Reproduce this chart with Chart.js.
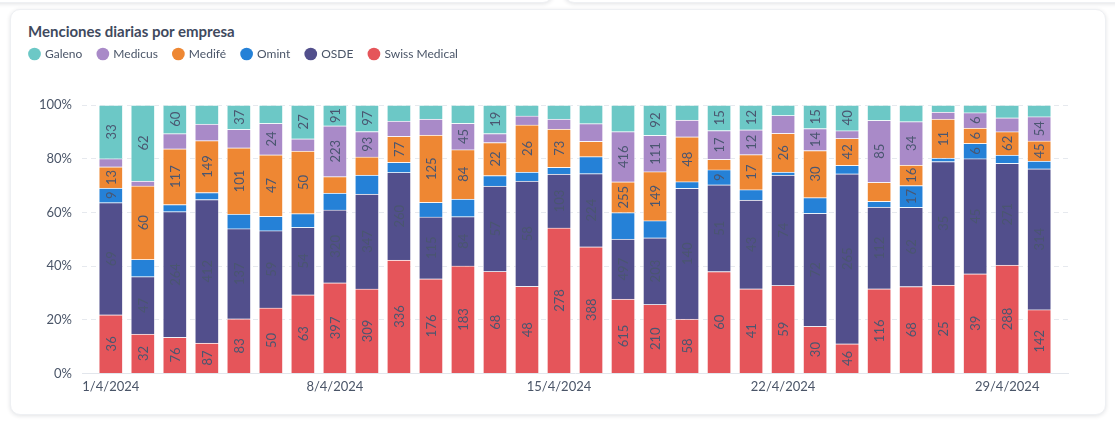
<!DOCTYPE html>
<html lang="es">
<head>
<meta charset="utf-8">
<title>Menciones diarias por empresa</title>
<script src="https://cdn.jsdelivr.net/npm/chart.js@4.4.1/dist/chart.umd.min.js"></script>
<style>
  html, body { margin: 0; padding: 0; background: #fff; font-family: Lato, sans-serif; }
  body { width: 1115px; height: 424px; position: relative; overflow: hidden; }
  .card { position: absolute; background: #fff; border-radius: 10px; border: 1px solid #eef0f3; box-shadow: 0 1px 4px rgba(15, 23, 42, 0.12); }
  .card.arriba-izq { left: -12px; top: -30px; width: 563px; height: 31px; }
  .card.arriba-der { left: 564px; top: -30px; width: 570px; height: 31px; }
  .card.principal { left: 10px; top: 9px; width: 1094px; height: 404px; }
  h3 { position: absolute; left: 28px; top: 22px; margin: 0; font: 700 15px/18px Lato, sans-serif; color: #3f4a5e; }
  .grafico { position: absolute; left: 14px; top: 32px; width: 1060px; height: 372px; }
</style>
</head>
<body>
<div class="card arriba-izq"></div>
<div class="card arriba-der"></div>
<div class="card principal"></div>
<h3>Menciones diarias por empresa</h3>
<div class="grafico"><canvas id="menciones"></canvas></div>

<script>
// días del mes (eje x)
const dias = [
    '1/4/2024', '2/4/2024', '3/4/2024', '4/4/2024', '5/4/2024', '6/4/2024', '7/4/2024',
    '8/4/2024', '9/4/2024', '10/4/2024', '11/4/2024', '12/4/2024', '13/4/2024', '14/4/2024',
    '15/4/2024', '16/4/2024', '17/4/2024', '18/4/2024', '19/4/2024', '20/4/2024', '21/4/2024',
    '22/4/2024', '23/4/2024', '24/4/2024', '25/4/2024', '26/4/2024', '27/4/2024', '28/4/2024',
    '29/4/2024', '30/4/2024',
];
// días con etiqueta en el eje
const diasConEtiqueta = [1, 8, 15, 22, 29];

// menciones por empresa y día
const galeno       = [33, 62, 60, 55, 37, 14, 27, 91, 97, 48, 26, 31, 19, 6, 27, 57, 220, 92, 16, 15, 12, 7, 15, 40, 21, 13, 2, 3, 34, 26];
const medicus      = [5, 4, 32, 47, 28, 24, 10, 223, 93, 45, 30, 45, 6, 5, 19, 54, 416, 111, 18, 17, 12, 12, 14, 12, 85, 34, 2, 6, 37, 54];
const medife       = [13, 60, 117, 149, 101, 47, 50, 72, 66, 77, 125, 84, 22, 26, 73, 47, 255, 149, 48, 6, 17, 26, 30, 42, 26, 16, 11, 6, 62, 45];
const omint        = [9, 14, 15, 20, 22, 11, 11, 74, 70, 30, 27, 30, 7, 5, 13, 52, 220, 52, 7, 9, 5, 2, 10, 13, 8, 17, 1, 6, 22, 17];
const osde         = [69, 47, 264, 412, 137, 59, 54, 320, 347, 260, 115, 84, 57, 58, 103, 224, 497, 203, 140, 51, 43, 74, 72, 265, 112, 62, 35, 45, 271, 314];
const swissMedical = [36, 32, 76, 87, 83, 50, 63, 397, 309, 336, 176, 183, 68, 48, 278, 388, 615, 210, 58, 60, 41, 59, 30, 46, 116, 68, 25, 39, 288, 142];

// orden de apilado: de abajo hacia arriba
const empresas = ['Swiss Medical', 'OSDE', 'Omint', 'Medifé', 'Medicus', 'Galeno'];
const series = [swissMedical, osde, omint, medife, medicus, galeno];
const colores = ['#e5555a', '#524f8c', '#2581d7', '#ee8733', '#a98ac8', '#6cc8c6'];

const totales = dias.map((_, i) => series.reduce((s, arr) => s + arr[i], 0));

Chart.defaults.font.family = 'Lato, sans-serif';
Chart.defaults.color = '#4a5568';

// etiquetas con el conteo, giradas, sólo si entran en el segmento
const etiquetasBarras = {
    id: 'etiquetasBarras',
    afterDatasetsDraw(chart) {
        const ctx = chart.ctx;
        ctx.save();
        ctx.font = '13px Lato, sans-serif';
        ctx.fillStyle = '#4a5670';
        ctx.textAlign = 'center';
        ctx.textBaseline = 'middle';
        chart.data.datasets.forEach((ds, di) => {
            const meta = chart.getDatasetMeta(di);
            if (meta.hidden) return;
            meta.data.forEach((bar, i) => {
                const texto = String(ds.conteos[i]);
                const alto = Math.abs(bar.base - bar.y);
                if (alto < ctx.measureText(texto).width + 4.7) return;
                ctx.save();
                ctx.translate(bar.x, (bar.y + bar.base) / 2);
                ctx.rotate(-Math.PI / 2);
                ctx.fillText(texto, 0, 1);
                ctx.restore();
            });
        });
        ctx.restore();
    }
};

// espacio extra debajo de la leyenda
const margenLeyenda = {
    id: 'margenLeyenda',
    beforeInit(chart) {
        const fitOriginal = chart.legend.fit;
        chart.legend.fit = function () {
            fitOriginal.call(this);
            this.height += 35;
        };
    }
};

new Chart(document.getElementById('menciones'), {
    type: 'bar',
    data: {
        datasets: empresas.map((nombre, k) => ({
            label: nombre,
            conteos: series[k],
            data: series[k].map((v, i) => ({ x: i + 1, y: v / totales[i] * 100 })),
            backgroundColor: colores[k],
            borderColor: 'rgba(255,255,255,0.4)',
            borderWidth: 1,
            barThickness: 24,
        })),
    },
    options: {
        responsive: true,
        maintainAspectRatio: false,
        animation: false,
        layout: { padding: { left: 0, right: 6, top: 0, bottom: 3 } },
        plugins: {
            legend: {
                position: 'top',
                align: 'start',
                reverse: true,
                labels: {
                    usePointStyle: true,
                    pointStyle: 'circle',
                    boxWidth: 9,
                    boxHeight: 9,
                    padding: 16,
                    color: '#4a5568',
                    font: { size: 12 },
                    generateLabels: (chart) => Chart.defaults.plugins.legend.labels
                        .generateLabels(chart).map(it => ({ ...it, lineWidth: 0 })),
                },
            },
            tooltip: { enabled: false },
        },
        scales: {
            x: {
                type: 'linear',
                stacked: true,
                offset: false,
                min: 0.1,
                max: 30.9,
                grid: { display: false, drawTicks: false, offset: false },
                border: { display: true, color: '#e2e6ec' },
                afterBuildTicks: (eje) => {
                    eje.ticks = diasConEtiqueta.map(v => ({ value: v }));
                },
                ticks: {
                    autoSkip: false,
                    maxRotation: 0,
                    padding: 6,
                    color: '#4a5568',
                    font: { size: 13 },
                    callback: (v) => dias[v - 1],
                },
            },
            y: {
                stacked: true,
                min: 0,
                max: 100,
                afterFit: (eje) => { eje.width = 68; },
                grid: { color: '#e6e9ee', drawTicks: false },
                border: { display: false, dash: [5, 4] },
                ticks: {
                    stepSize: 20,
                    padding: 10,
                    color: '#4a5568',
                    font: { size: 13 },
                    callback: (v) => v + '%',
                },
            },
        },
    },
    plugins: [etiquetasBarras, margenLeyenda],
});
</script>
</body>
</html>
